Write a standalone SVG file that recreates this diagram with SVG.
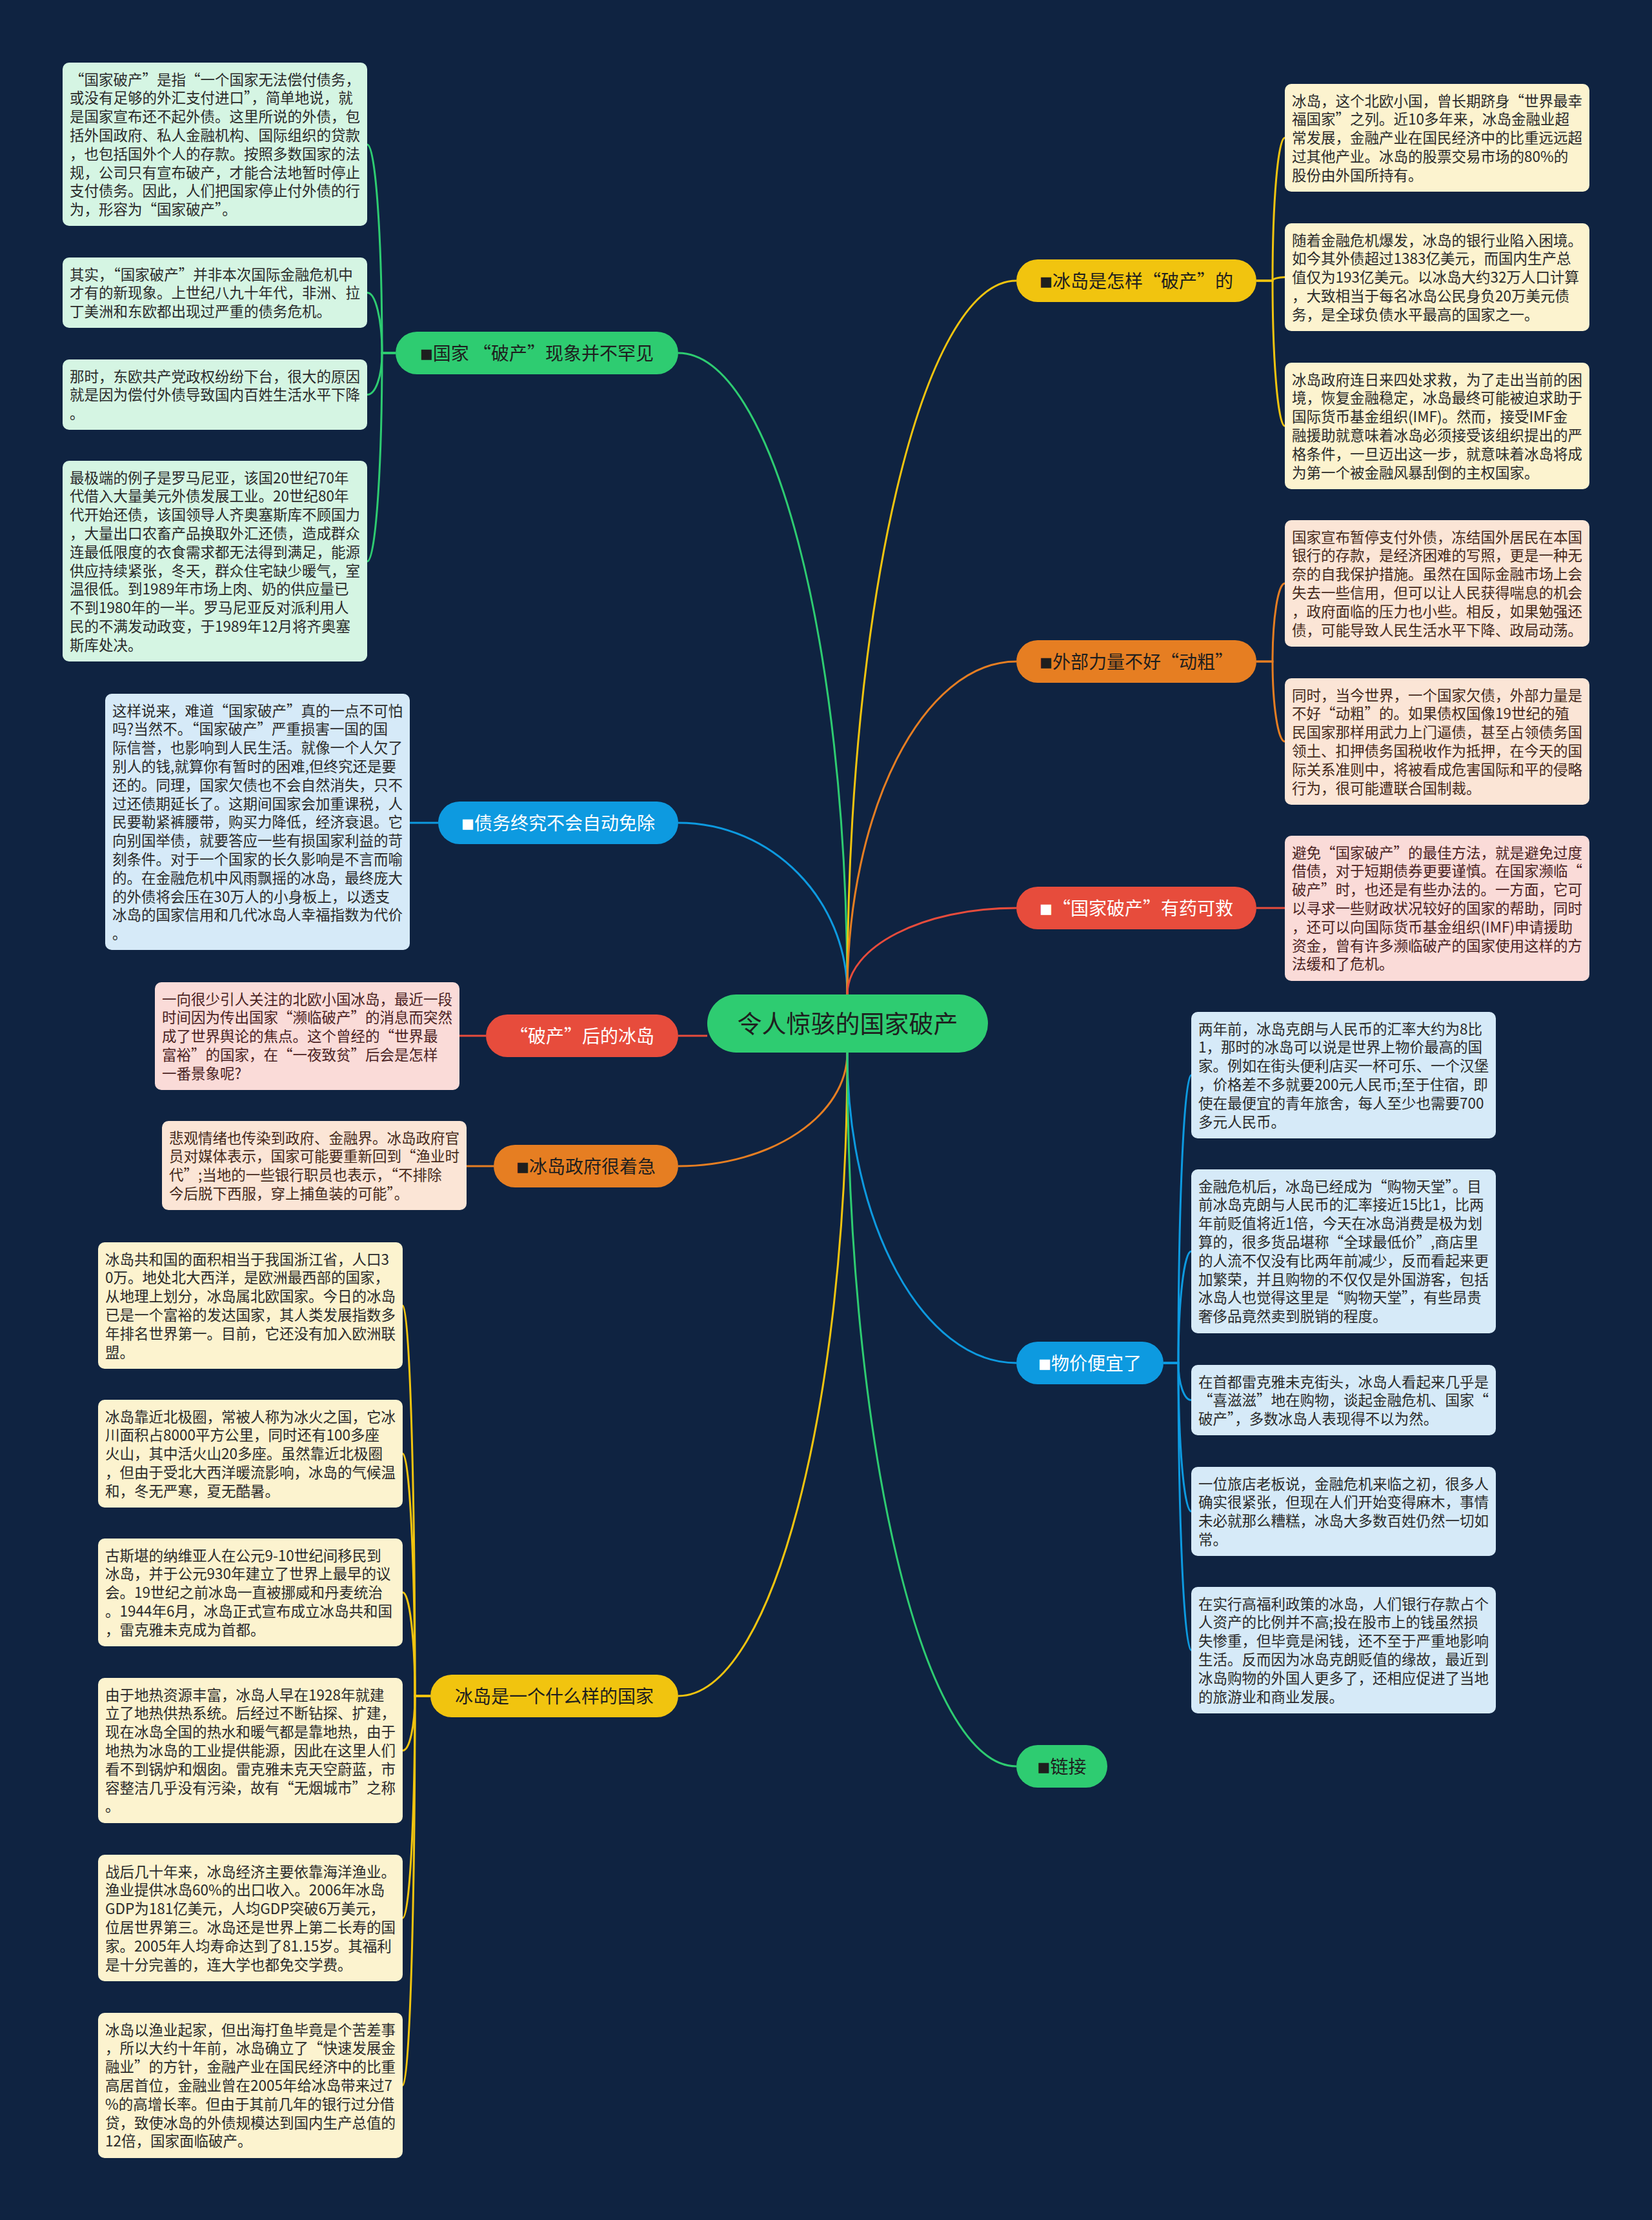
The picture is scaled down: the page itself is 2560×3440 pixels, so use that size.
<svg xmlns="http://www.w3.org/2000/svg" width="2560" height="3440" viewBox="0 0 2560 3440">
<defs>
<style>
text{font-family:"Noto Sans CJK SC","Microsoft YaHei",sans-serif;}
.t{font-size:22.5px;fill:#2a2a2a;}
.tr{font-size:22.5px;fill:#4a2222;}
.to{font-size:22.5px;fill:#45291a;}
.nt{font-size:28px;text-anchor:middle;}
.dk{fill:#1e1e1e;}
.wh{fill:#ffffff;}
.sq{font-family:"DejaVu Sans",sans-serif;font-size:21px;baseline-shift:3px;}
.bx-g{fill:#d5f5e3;}
.bx-b{fill:#d6eaf8;}
.bx-r{fill:#fadbd8;}
.bx-o{fill:#fbe5d6;}
.bx-y{fill:#fcf3cf;}
.c{fill:none;stroke-width:3;}
.cg{stroke:#2ecc71;}
.cb{stroke:#0d9ae0;}
.cr{stroke:#e74c3c;}
.co{stroke:#e67e22;}
.cy{stroke:#f1c40f;}
</style>
</defs>
<rect width="2560" height="3440" fill="#0f2341"/>

<g id="connectors">
<path class="c cg" d="M1313 1541 C1313 992 1196 547 1051 547"/>
<path class="c cb" d="M1313 1541 C1313 1394 1196 1275 1051 1275"/>
<path class="c cr" d="M1096 1605 H1051"/>
<path class="c co" d="M1313 1631 C1313 1728 1196 1807 1051 1807"/>
<path class="c cy" d="M1313 1631 C1313 2181 1196 2628 1051 2628"/>
<path class="c cy" d="M1313 1541 C1313 930 1430 435 1575 435"/>
<path class="c co" d="M1313 1541 C1313 1256 1430 1025 1575 1025"/>
<path class="c cr" d="M1313 1541 C1313 1467 1430 1407 1575 1407"/>
<path class="c cb" d="M1313 1631 C1313 1896 1430 2112 1575 2112"/>
<path class="c cg" d="M1313 1631 C1313 2241 1430 2737 1575 2737"/>
<path class="c cg" d="M613 547 H592 C592 369 582 224 569 224"/>
<path class="c cg" d="M613 547 H592 C592 495 582 453.5 569 453.5"/>
<path class="c cg" d="M613 547 H592 C592 583 582 611.5 569 611.5"/>
<path class="c cg" d="M613 547 H592 C592 725 582 870 569 870"/>
<path class="c cb" d="M635 1275 H679"/>
<path class="c cr" d="M712 1605 H753"/>
<path class="c co" d="M723 1807 H765"/>
<path class="c cr" d="M1947 1407 H1991"/>
<path class="c cy" d="M667 2628 H643 C643 2294 634.5 2023 624 2023"/>
<path class="c cy" d="M667 2628 H643 C643 2421 634.5 2252.5 624 2252.5"/>
<path class="c cy" d="M667 2628 H643 C643 2539 634.5 2467.5 624 2467.5"/>
<path class="c cy" d="M667 2628 H643 C643 2675 634.5 2712.5 624 2712.5"/>
<path class="c cy" d="M667 2628 H643 C643 2818 634.5 2972 624 2972"/>
<path class="c cy" d="M667 2628 H643 C643 2961 634.5 3231.5 624 3231.5"/>
<path class="c cy" d="M1947 435 H1972 C1972 313 1980.5 213.5 1991 213.5"/>
<path class="c cy" d="M1947 435 H1972 C1972 432 1980.5 429.5 1991 429.5"/>
<path class="c cy" d="M1947 435 H1972 C1972 559 1980.5 660 1991 660"/>
<path class="c co" d="M1947 1025 H1972 C1972 958 1980.5 904 1991 904"/>
<path class="c co" d="M1947 1025 H1972 C1972 1093 1980.5 1149 1991 1149"/>
<path class="c cb" d="M1803 2112 H1826 C1826 1866 1835 1666 1846 1666"/>
<path class="c cb" d="M1803 2112 H1826 C1826 2016 1835 1939 1846 1939"/>
<path class="c cb" d="M1803 2112 H1826 C1826 2144 1835 2169.5 1846 2169.5"/>
<path class="c cb" d="M1803 2112 H1826 C1826 2239 1835 2342 1846 2342"/>
<path class="c cb" d="M1803 2112 H1826 C1826 2358 1835 2557 1846 2557"/>
</g>

<g id="central">
<rect x="1096" y="1541" width="435" height="90" rx="45" fill="#2ecc71"/>
<text x="1313.5" y="1600" text-anchor="middle" font-size="38" fill="#1e1e1e">令人惊骇的国家破产</text>
</g>

<g id="n-common">
<rect x="613" y="514" width="438" height="66" rx="33" fill="#2ecc71"/>
<text class="nt dk" x="832" y="557.6"><tspan class="sq">■</tspan>国家 “破产”现象并不罕见</text>
</g>
<g id="n-debt">
<rect x="679" y="1242" width="372" height="66" rx="33" fill="#0d9ae0"/>
<text class="nt wh" x="865" y="1285.6"><tspan class="sq">■</tspan>债务终究不会自动免除</text>
</g>
<g id="n-after">
<rect x="753" y="1572" width="298" height="66" rx="33" fill="#e74c3c"/>
<text class="nt wh" x="902" y="1615.6">“破产”后的冰岛</text>
</g>
<g id="n-gov">
<rect x="765" y="1774" width="286" height="66" rx="33" fill="#e67e22"/>
<text class="nt dk" x="908" y="1817.6"><tspan class="sq">■</tspan>冰岛政府很着急</text>
</g>
<g id="n-what">
<rect x="667" y="2595" width="384" height="66" rx="33" fill="#f1c40f"/>
<text class="nt dk" x="859" y="2638.6">冰岛是一个什么样的国家</text>
</g>
<g id="n-how">
<rect x="1575" y="402" width="372" height="66" rx="33" fill="#f1c40f"/>
<text class="nt dk" x="1761" y="445.6"><tspan class="sq">■</tspan>冰岛是怎样“破产”的</text>
</g>
<g id="n-force">
<rect x="1575" y="992" width="372" height="66" rx="33" fill="#e67e22"/>
<text class="nt dk" x="1761" y="1035.6"><tspan class="sq">■</tspan>外部力量不好“动粗”</text>
</g>
<g id="n-cure">
<rect x="1575" y="1374" width="372" height="66" rx="33" fill="#e74c3c"/>
<text class="nt wh" x="1761" y="1417.6"><tspan class="sq">■</tspan>“国家破产”有药可救</text>
</g>
<g id="n-price">
<rect x="1575" y="2079" width="228" height="66" rx="33" fill="#0d9ae0"/>
<text class="nt wh" x="1689" y="2122.6"><tspan class="sq">■</tspan>物价便宜了</text>
</g>
<g id="n-link">
<rect x="1575" y="2704" width="141" height="66" rx="33" fill="#2ecc71"/>
<text class="nt dk" x="1645.5" y="2747.6"><tspan class="sq">■</tspan>链接</text>
</g>

<g id="b-g1">
<rect class="bx-g" x="97" y="97" width="472" height="253" rx="10"/>
<text class="t" x="108" y="131.5"><tspan x="108">“国家破产”是指“一个国家无法偿付债务，</tspan><tspan x="108" dy="28.8">或没有足够的外汇支付进口”，简单地说，就</tspan><tspan x="108" dy="28.8">是国家宣布还不起外债。这里所说的外债，包</tspan><tspan x="108" dy="28.8">括外国政府、私人金融机构、国际组织的贷款</tspan><tspan x="108" dy="28.8">，也包括国外个人的存款。按照多数国家的法</tspan><tspan x="108" dy="28.8">规，公司只有宣布破产，才能合法地暂时停止</tspan><tspan x="108" dy="28.8">支付债务。因此，人们把国家停止付外债的行</tspan><tspan x="108" dy="28.8">为，形容为“国家破产”。</tspan></text>
</g>
<g id="b-g2">
<rect class="bx-g" x="97" y="399" width="472" height="109" rx="10"/>
<text class="t" x="108" y="433.5"><tspan x="108">其实，“国家破产”并非本次国际金融危机中</tspan><tspan x="108" dy="28.8">才有的新现象。上世纪八九十年代，非洲、拉</tspan><tspan x="108" dy="28.8">丁美洲和东欧都出现过严重的债务危机。</tspan></text>
</g>
<g id="b-g3">
<rect class="bx-g" x="97" y="557" width="472" height="109" rx="10"/>
<text class="t" x="108" y="591.5"><tspan x="108">那时，东欧共产党政权纷纷下台，很大的原因</tspan><tspan x="108" dy="28.8">就是因为偿付外债导致国内百姓生活水平下降</tspan><tspan x="108" dy="28.8">。</tspan></text>
</g>
<g id="b-g4">
<rect class="bx-g" x="97" y="714" width="472" height="311" rx="10"/>
<text class="t" x="108" y="748.5"><tspan x="108">最极端的例子是罗马尼亚，该国20世纪70年</tspan><tspan x="108" dy="28.8">代借入大量美元外债发展工业。20世纪80年</tspan><tspan x="108" dy="28.8">代开始还债，该国领导人齐奥塞斯库不顾国力</tspan><tspan x="108" dy="28.8">，大量出口农畜产品换取外汇还债，造成群众</tspan><tspan x="108" dy="28.8">连最低限度的衣食需求都无法得到满足，能源</tspan><tspan x="108" dy="28.8">供应持续紧张，冬天，群众住宅缺少暖气，室</tspan><tspan x="108" dy="28.8">温很低。到1989年市场上肉、奶的供应量已</tspan><tspan x="108" dy="28.8">不到1980年的一半。罗马尼亚反对派利用人</tspan><tspan x="108" dy="28.8">民的不满发动政变，于1989年12月将齐奥塞</tspan><tspan x="108" dy="28.8">斯库处决。</tspan></text>
</g>

<g id="b-b1">
<rect class="bx-b" x="163" y="1075" width="472" height="397" rx="10"/>
<text class="t" x="174" y="1109.5"><tspan x="174">这样说来，难道“国家破产”真的一点不可怕</tspan><tspan x="174" dy="28.8">吗?当然不。“国家破产”严重损害一国的国</tspan><tspan x="174" dy="28.8">际信誉，也影响到人民生活。就像一个人欠了</tspan><tspan x="174" dy="28.8">别人的钱,就算你有暂时的困难,但终究还是要</tspan><tspan x="174" dy="28.8">还的。同理，国家欠债也不会自然消失，只不</tspan><tspan x="174" dy="28.8">过还债期延长了。这期间国家会加重课税，人</tspan><tspan x="174" dy="28.8">民要勒紧裤腰带，购买力降低，经济衰退。它</tspan><tspan x="174" dy="28.8">向别国举债，就要答应一些有损国家利益的苛</tspan><tspan x="174" dy="28.8">刻条件。对于一个国家的长久影响是不言而喻</tspan><tspan x="174" dy="28.8">的。在金融危机中风雨飘摇的冰岛，最终庞大</tspan><tspan x="174" dy="28.8">的外债将会压在30万人的小身板上，以透支</tspan><tspan x="174" dy="28.8">冰岛的国家信用和几代冰岛人幸福指数为代价</tspan><tspan x="174" dy="28.8">。</tspan></text>
</g>

<g id="b-r1">
<rect class="bx-r" x="240" y="1522" width="472" height="167" rx="10"/>
<text class="tr" x="251" y="1556.5"><tspan x="251">一向很少引人关注的北欧小国冰岛，最近一段</tspan><tspan x="251" dy="28.8">时间因为传出国家“濒临破产”的消息而突然</tspan><tspan x="251" dy="28.8">成了世界舆论的焦点。这个曾经的“世界最</tspan><tspan x="251" dy="28.8">富裕”的国家，在“一夜致贫”后会是怎样</tspan><tspan x="251" dy="28.8">一番景象呢?</tspan></text>
</g>

<g id="b-o1">
<rect class="bx-o" x="251" y="1737" width="472" height="138" rx="10"/>
<text class="to" x="262" y="1771.5"><tspan x="262">悲观情绪也传染到政府、金融界。冰岛政府官</tspan><tspan x="262" dy="28.8">员对媒体表示，国家可能要重新回到“渔业时</tspan><tspan x="262" dy="28.8">代”;当地的一些银行职员也表示，“不排除</tspan><tspan x="262" dy="28.8">今后脱下西服，穿上捕鱼装的可能”。</tspan></text>
</g>

<g id="b-y1">
<rect class="bx-y" x="152" y="1925" width="472" height="196" rx="10"/>
<text class="t" x="163" y="1959.5"><tspan x="163">冰岛共和国的面积相当于我国浙江省，人口3</tspan><tspan x="163" dy="28.8">0万。地处北大西洋，是欧洲最西部的国家，</tspan><tspan x="163" dy="28.8">从地理上划分，冰岛属北欧国家。今日的冰岛</tspan><tspan x="163" dy="28.8">已是一个富裕的发达国家，其人类发展指数多</tspan><tspan x="163" dy="28.8">年排名世界第一。目前，它还没有加入欧洲联</tspan><tspan x="163" dy="28.8">盟。</tspan></text>
</g>
<g id="b-y2">
<rect class="bx-y" x="152" y="2169" width="472" height="167" rx="10"/>
<text class="t" x="163" y="2203.5"><tspan x="163">冰岛靠近北极圈，常被人称为冰火之国，它冰</tspan><tspan x="163" dy="28.8">川面积占8000平方公里，同时还有100多座</tspan><tspan x="163" dy="28.8">火山，其中活火山20多座。虽然靠近北极圈</tspan><tspan x="163" dy="28.8">，但由于受北大西洋暖流影响，冰岛的气候温</tspan><tspan x="163" dy="28.8">和，冬无严寒，夏无酷暑。</tspan></text>
</g>
<g id="b-y3">
<rect class="bx-y" x="152" y="2384" width="472" height="167" rx="10"/>
<text class="t" x="163" y="2418.5"><tspan x="163">古斯堪的纳维亚人在公元9-10世纪间移民到</tspan><tspan x="163" dy="28.8">冰岛，并于公元930年建立了世界上最早的议</tspan><tspan x="163" dy="28.8">会。19世纪之前冰岛一直被挪威和丹麦统治</tspan><tspan x="163" dy="28.8">。1944年6月，冰岛正式宣布成立冰岛共和国</tspan><tspan x="163" dy="28.8">，雷克雅未克成为首都。</tspan></text>
</g>
<g id="b-y4">
<rect class="bx-y" x="152" y="2600" width="472" height="225" rx="10"/>
<text class="t" x="163" y="2634.5"><tspan x="163">由于地热资源丰富，冰岛人早在1928年就建</tspan><tspan x="163" dy="28.8">立了地热供热系统。后经过不断钻探、扩建，</tspan><tspan x="163" dy="28.8">现在冰岛全国的热水和暖气都是靠地热，由于</tspan><tspan x="163" dy="28.8">地热为冰岛的工业提供能源，因此在这里人们</tspan><tspan x="163" dy="28.8">看不到锅炉和烟囱。雷克雅未克天空蔚蓝，市</tspan><tspan x="163" dy="28.8">容整洁几乎没有污染，故有“无烟城市”之称</tspan><tspan x="163" dy="28.8">。</tspan></text>
</g>
<g id="b-y5">
<rect class="bx-y" x="152" y="2874" width="472" height="196" rx="10"/>
<text class="t" x="163" y="2908.5"><tspan x="163">战后几十年来，冰岛经济主要依靠海洋渔业。</tspan><tspan x="163" dy="28.8">渔业提供冰岛60%的出口收入。2006年冰岛</tspan><tspan x="163" dy="28.8">GDP为181亿美元，人均GDP突破6万美元，</tspan><tspan x="163" dy="28.8">位居世界第三。冰岛还是世界上第二长寿的国</tspan><tspan x="163" dy="28.8">家。2005年人均寿命达到了81.15岁。其福利</tspan><tspan x="163" dy="28.8">是十分完善的，连大学也都免交学费。</tspan></text>
</g>
<g id="b-y6">
<rect class="bx-y" x="152" y="3119" width="472" height="225" rx="10"/>
<text class="t" x="163" y="3153.5"><tspan x="163">冰岛以渔业起家，但出海打鱼毕竟是个苦差事</tspan><tspan x="163" dy="28.8">，所以大约十年前，冰岛确立了“快速发展金</tspan><tspan x="163" dy="28.8">融业”的方针，金融产业在国民经济中的比重</tspan><tspan x="163" dy="28.8">高居首位，金融业曾在2005年给冰岛带来过7</tspan><tspan x="163" dy="28.8">%的高增长率。但由于其前几年的银行过分借</tspan><tspan x="163" dy="28.8">贷，致使冰岛的外债规模达到国内生产总值的</tspan><tspan x="163" dy="28.8">12倍，国家面临破产。</tspan></text>
</g>

<g id="b-yr1">
<rect class="bx-y" x="1991" y="130" width="472" height="167" rx="10"/>
<text class="t" x="2002" y="164.5"><tspan x="2002">冰岛，这个北欧小国，曾长期跻身“世界最幸</tspan><tspan x="2002" dy="28.8">福国家”之列。近10多年来，冰岛金融业超</tspan><tspan x="2002" dy="28.8">常发展，金融产业在国民经济中的比重远远超</tspan><tspan x="2002" dy="28.8">过其他产业。冰岛的股票交易市场的80%的</tspan><tspan x="2002" dy="28.8">股份由外国所持有。</tspan></text>
</g>
<g id="b-yr2">
<rect class="bx-y" x="1991" y="346" width="472" height="167" rx="10"/>
<text class="t" x="2002" y="380.5"><tspan x="2002">随着金融危机爆发，冰岛的银行业陷入困境。</tspan><tspan x="2002" dy="28.8">如今其外债超过1383亿美元，而国内生产总</tspan><tspan x="2002" dy="28.8">值仅为193亿美元。以冰岛大约32万人口计算</tspan><tspan x="2002" dy="28.8">，大致相当于每名冰岛公民身负20万美元债</tspan><tspan x="2002" dy="28.8">务，是全球负债水平最高的国家之一。</tspan></text>
</g>
<g id="b-yr3">
<rect class="bx-y" x="1991" y="562" width="472" height="196" rx="10"/>
<text class="t" x="2002" y="596.5"><tspan x="2002">冰岛政府连日来四处求救，为了走出当前的困</tspan><tspan x="2002" dy="28.8">境，恢复金融稳定，冰岛最终可能被迫求助于</tspan><tspan x="2002" dy="28.8">国际货币基金组织(IMF)。然而，接受IMF金</tspan><tspan x="2002" dy="28.8">融援助就意味着冰岛必须接受该组织提出的严</tspan><tspan x="2002" dy="28.8">格条件，一旦迈出这一步，就意味着冰岛将成</tspan><tspan x="2002" dy="28.8">为第一个被金融风暴刮倒的主权国家。</tspan></text>
</g>

<g id="b-or1">
<rect class="bx-o" x="1991" y="806" width="472" height="196" rx="10"/>
<text class="to" x="2002" y="840.5"><tspan x="2002">国家宣布暂停支付外债，冻结国外居民在本国</tspan><tspan x="2002" dy="28.8">银行的存款，是经济困难的写照，更是一种无</tspan><tspan x="2002" dy="28.8">奈的自我保护措施。虽然在国际金融市场上会</tspan><tspan x="2002" dy="28.8">失去一些信用，但可以让人民获得喘息的机会</tspan><tspan x="2002" dy="28.8">，政府面临的压力也小些。相反，如果勉强还</tspan><tspan x="2002" dy="28.8">债，可能导致人民生活水平下降、政局动荡。</tspan></text>
</g>
<g id="b-or2">
<rect class="bx-o" x="1991" y="1051" width="472" height="196" rx="10"/>
<text class="to" x="2002" y="1085.5"><tspan x="2002">同时，当今世界，一个国家欠债，外部力量是</tspan><tspan x="2002" dy="28.8">不好“动粗”的。如果债权国像19世纪的殖</tspan><tspan x="2002" dy="28.8">民国家那样用武力上门逼债，甚至占领债务国</tspan><tspan x="2002" dy="28.8">领土、扣押债务国税收作为抵押，在今天的国</tspan><tspan x="2002" dy="28.8">际关系准则中，将被看成危害国际和平的侵略</tspan><tspan x="2002" dy="28.8">行为，很可能遭联合国制裁。</tspan></text>
</g>

<g id="b-rr1">
<rect class="bx-r" x="1991" y="1295" width="472" height="225" rx="10"/>
<text class="tr" x="2002" y="1329.5"><tspan x="2002">避免“国家破产”的最佳方法，就是避免过度</tspan><tspan x="2002" dy="28.8">借债，对于短期债券更要谨慎。在国家濒临“</tspan><tspan x="2002" dy="28.8">破产”时，也还是有些办法的。一方面，它可</tspan><tspan x="2002" dy="28.8">以寻求一些财政状况较好的国家的帮助，同时</tspan><tspan x="2002" dy="28.8">，还可以向国际货币基金组织(IMF)申请援助</tspan><tspan x="2002" dy="28.8">资金，曾有许多濒临破产的国家使用这样的方</tspan><tspan x="2002" dy="28.8">法缓和了危机。</tspan></text>
</g>

<g id="b-br1">
<rect class="bx-b" x="1846" y="1568" width="472" height="196" rx="10"/>
<text class="t" x="1857" y="1602.5"><tspan x="1857">两年前，冰岛克朗与人民币的汇率大约为8比</tspan><tspan x="1857" dy="28.8">1，那时的冰岛可以说是世界上物价最高的国</tspan><tspan x="1857" dy="28.8">家。例如在街头便利店买一杯可乐、一个汉堡</tspan><tspan x="1857" dy="28.8">，价格差不多就要200元人民币;至于住宿，即</tspan><tspan x="1857" dy="28.8">使在最便宜的青年旅舍，每人至少也需要700</tspan><tspan x="1857" dy="28.8">多元人民币。</tspan></text>
</g>
<g id="b-br2">
<rect class="bx-b" x="1846" y="1812" width="472" height="254" rx="10"/>
<text class="t" x="1857" y="1846.5"><tspan x="1857">金融危机后，冰岛已经成为“购物天堂”。目</tspan><tspan x="1857" dy="28.8">前冰岛克朗与人民币的汇率接近15比1，比两</tspan><tspan x="1857" dy="28.8">年前贬值将近1倍，今天在冰岛消费是极为划</tspan><tspan x="1857" dy="28.8">算的，很多货品堪称“全球最低价”,商店里</tspan><tspan x="1857" dy="28.8">的人流不仅没有比两年前减少，反而看起来更</tspan><tspan x="1857" dy="28.8">加繁荣，并且购物的不仅仅是外国游客，包括</tspan><tspan x="1857" dy="28.8">冰岛人也觉得这里是“购物天堂”，有些昂贵</tspan><tspan x="1857" dy="28.8">奢侈品竟然卖到脱销的程度。</tspan></text>
</g>
<g id="b-br3">
<rect class="bx-b" x="1846" y="2115" width="472" height="109" rx="10"/>
<text class="t" x="1857" y="2149.5"><tspan x="1857">在首都雷克雅未克街头，冰岛人看起来几乎是</tspan><tspan x="1857" dy="28.8">“喜滋滋”地在购物，谈起金融危机、国家“</tspan><tspan x="1857" dy="28.8">破产”，多数冰岛人表现得不以为然。</tspan></text>
</g>
<g id="b-br4">
<rect class="bx-b" x="1846" y="2273" width="472" height="138" rx="10"/>
<text class="t" x="1857" y="2307.5"><tspan x="1857">一位旅店老板说，金融危机来临之初，很多人</tspan><tspan x="1857" dy="28.8">确实很紧张，但现在人们开始变得麻木，事情</tspan><tspan x="1857" dy="28.8">未必就那么糟糕，冰岛大多数百姓仍然一切如</tspan><tspan x="1857" dy="28.8">常。</tspan></text>
</g>
<g id="b-br5">
<rect class="bx-b" x="1846" y="2459" width="472" height="196" rx="10"/>
<text class="t" x="1857" y="2493.5"><tspan x="1857">在实行高福利政策的冰岛，人们银行存款占个</tspan><tspan x="1857" dy="28.8">人资产的比例并不高;投在股市上的钱虽然损</tspan><tspan x="1857" dy="28.8">失惨重，但毕竟是闲钱，还不至于严重地影响</tspan><tspan x="1857" dy="28.8">生活。反而因为冰岛克朗贬值的缘故，最近到</tspan><tspan x="1857" dy="28.8">冰岛购物的外国人更多了，还相应促进了当地</tspan><tspan x="1857" dy="28.8">的旅游业和商业发展。</tspan></text>
</g>
</svg>
